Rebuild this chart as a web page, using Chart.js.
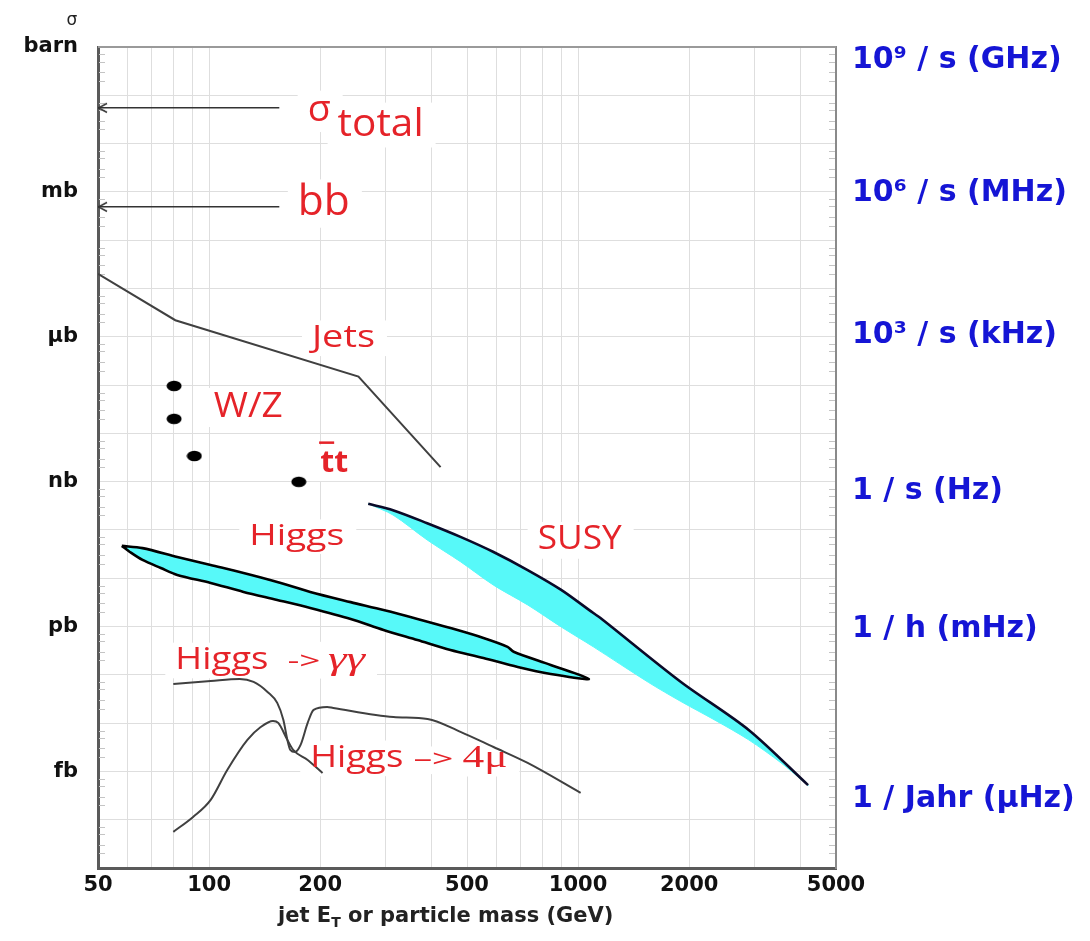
<!DOCTYPE html>
<html>
<head>
<meta charset="utf-8">
<script src="https://cdn.jsdelivr.net/npm/chart.js"></script>
<style>
  html, body { margin: 0; padding: 0; background: #fff; }
  #wrap { width: 1090px; height: 941px; position: relative; }
</style>
</head>
<body>
<div id="wrap"><canvas id="xsecChart"></canvas></div>
<script>
// x: jet ET / particle mass in GeV, y: cross section in pb
const xTicks = [50, 60, 70, 80, 90, 100, 200, 300, 400, 500, 600, 700, 800, 900, 1000, 2000, 3000, 4000, 5000];
const xTickLabels = [50, 100, 200, 500, 1000, 2000, 5000];
const yTicks = [1e-5, 1e-4, 1e-3, 1e-2, 1e-1, 1, 1e1, 1e2, 1e3, 1e4, 1e5, 1e6, 1e7, 1e8, 1e9, 1e10, 1e11, 1e12];
const yMinorSteps = [2, 3, 5, 7];
const yUnitValues = [1e12, 1e9, 1e6, 1e3, 1, 1e-3];
const yUnitLabels = ["barn", "mb", "μb", "nb", "pb", "fb"];
const rateValues = [5.4e11, 9.5e8, 1.1e6, 640, 0.89, 2.6e-4];
const rateLabels = ["10⁹ / s (GHz)", "10⁶ / s (MHz)", "10³ / s (kHz)", "1 / s (Hz)", "1 / h (mHz)", "1 / Jahr (μHz)"];

const sigmaTotal = [[155, 5.5e10], [50, 5.5e10]];
const sigmaBB = [[155, 4.9e8], [50, 4.9e8]];
const jets = [[50, 2.0e7], [81, 2.2e6], [254, 1.5e5], [424, 2.0e3]];
const wzTop = [[80.4, 9.6e4], [80.4, 2.0e4], [91.2, 3.4e3], [175, 990]];

const higgsUpper = [[58, 46.7], [66, 42], [82, 27.6], [101, 18.8], [124, 12.9], [153, 8.4], [188, 5.2],
  [242, 3.2], [297, 2.2], [367, 1.44], [451, 0.93], [554, 0.58], [644, 0.38], [669, 0.30], [843, 0.16], [1070, 0.082]];
const higgsLower = [[58, 46.7], [61, 35], [66, 23.9], [74, 16.3], [82, 11.7], [101, 8.0], [124, 5.2], [153, 3.56],
  [188, 2.43], [242, 1.44], [297, 0.85], [367, 0.525], [451, 0.326], [554, 0.223], [686, 0.145], [843, 0.104], [1070, 0.082]];

const susyUpper = [[270, 347], [315, 257], [390, 138], [480, 72], [590, 35], [730, 14.8], [900, 5.75],
  [1100, 1.9], [1150, 1.5], [1900, 0.071], [2900, 0.0072], [4200, 0.00052]];
const susyLower = [[270, 347], [315, 204], [390, 62], [480, 22], [590, 7.2], [730, 2.8], [900, 0.98],
  [1100, 0.38], [1550, 0.07], [1900, 0.028], [2350, 0.0115], [2900, 0.0045], [3550, 0.0015], [4200, 0.00052]];

const higgsGG = [[80, 0.0648], [101, 0.0748], [121, 0.0822], [132, 0.0713], [144, 0.0443], [153, 0.0262],
  [159, 0.0116], [163, 0.0045], [166, 0.0028], [171, 0.00253], [177, 0.00354], [185, 0.0101], [192, 0.0188],
  [209, 0.0216], [217, 0.0206], [316, 0.0134], [391, 0.0122], [480, 0.0066], [590, 0.0032], [730, 0.0015], [1016, 0.00036]];
const higgs4mu = [[80, 5.6e-5], [90.5, 1.14e-4], [101, 2.57e-4], [112, 1.07e-3], [127, 4.5e-3], [138, 8.3e-3],
  [149, 0.0111], [154, 0.0101], [163, 0.0045], [169, 0.0028], [185, 0.00173], [203, 0.00093]];

const red = "#e52329";
const cyan = "#57f9f9";
const textLabels = [
  { text: "σ", x: 185, y: 2.9e10, size: 36, w: 23 },
  { text: "total", x: 223, y: 1.45e10, size: 39, w: 86 },
  { text: "bb", x: 174, y: 3.3e8, size: 42, w: 52 },
  { text: "Jets", x: 190, y: 6.2e5, size: 31, w: 63 },
  { text: "W/Z", x: 103, y: 2.2e4, size: 34, w: 69 },
  { text: "tt", x: 200, y: 1.6e3, size: 31, w: 28, bold: true, bar: true },
  { text: "Higgs", x: 128.5, y: 49, size: 30, w: 95 },
  { text: "SUSY", x: 777, y: 40, size: 32, w: 84 },
  { text: "Higgs", x: 81, y: 0.132, size: 31, w: 93 },
  { text: "->", x: 163, y: 0.132, size: 24, w: 33 },
  { text: "γγ", x: 210, y: 0.132, size: 32, w: 37, family: "'Liberation Serif'", italic: true },
  { text: "Higgs", x: 188, y: 1.24e-3, size: 31, w: 93 },
  { text: "–>", x: 358, y: 1.24e-3, size: 24, w: 40 },
  { text: "4μ", x: 486, y: 1.24e-3, size: 32, w: 45, family: "'Liberation Serif'" },
];

const pts = (arr) => arr.map(([x, y]) => ({ x, y }));

function makeArrowHead() {
  const c = document.createElement("canvas");
  c.width = 22; c.height = 12;
  const g = c.getContext("2d");
  g.strokeStyle = "#333"; g.lineWidth = 1.5;
  g.beginPath(); g.moveTo(20, 1.5); g.lineTo(11.5, 6); g.lineTo(20, 10.5); g.stroke();
  return c;
}
function makeDot() {
  const c = document.createElement("canvas");
  c.width = 16; c.height = 12;
  const g = c.getContext("2d");
  g.fillStyle = "#000";
  g.beginPath(); g.ellipse(8, 6, 7.5, 5.2, 0, 0, Math.PI * 2); g.fill();
  return c;
}
const arrowHead = makeArrowHead();
const dot = makeDot();

const lineDefaults = { showLine: true, pointRadius: 0, pointHoverRadius: 0, fill: false };

function labelFont(l) {
  const weight = l.bold ? "bold " : l.family ? "" : "500 ";
  return `${l.italic ? "italic " : ""}${weight}${l.size}px ${l.family || "'Open Sans'"}`;
}

// text labels drawn in data coordinates, with white patches behind them
const labelPlugin = {
  id: "labelPlugin",
  beforeDatasetsDraw(chart) {
    const { ctx, scales, chartArea } = chart;
    ctx.save();
    ctx.fillStyle = "#fff";
    for (const l of textLabels) {
      const px = scales.x.getPixelForValue(l.x);
      const py = scales.y.getPixelForValue(l.y);
      ctx.fillRect(px - 10, py - l.size * 0.85, l.w + 22, l.size * 1.15);
    }
    // minor tick comb inside left and right frame
    ctx.strokeStyle = "#c4c4c4";
    ctx.lineWidth = 1;
    ctx.beginPath();
    for (const d of yTicks.slice(0, -1)) {
      for (const m of yMinorSteps) {
        const py = Math.round(scales.y.getPixelForValue(d * m)) + 0.5;
        ctx.moveTo(chartArea.left + 1, py); ctx.lineTo(chartArea.left + 7, py);
        ctx.moveTo(chartArea.right - 1, py); ctx.lineTo(chartArea.right - 7, py);
      }
    }
    ctx.stroke();
    ctx.restore();
  },
  afterDatasetsDraw(chart) {
    const { ctx, scales } = chart;
    ctx.save();
    ctx.fillStyle = red;
    ctx.textAlign = "left";
    ctx.textBaseline = "alphabetic";
    for (const l of textLabels) {
      const px = scales.x.getPixelForValue(l.x);
      const py = scales.y.getPixelForValue(l.y);
      ctx.font = labelFont(l);
      const m = ctx.measureText(l.text).width;
      const sx = l.w ? l.w / m : 1;
      ctx.save();
      ctx.translate(px, py);
      ctx.scale(sx, 1);
      ctx.fillText(l.text, 0, 0);
      if (l.bar) {
        const tw = ctx.measureText("t").width;
        ctx.fillRect(-1, -l.size * 0.98, tw + 1, 2.5);
      }
      ctx.restore();
    }
    ctx.restore();
  },
  afterDraw(chart) {
    const { ctx, chartArea } = chart;
    ctx.save();
    // top frame line
    ctx.strokeStyle = "#9a9a9a";
    ctx.lineWidth = 2;
    ctx.beginPath();
    ctx.moveTo(chartArea.left, chartArea.top);
    ctx.lineTo(chartArea.right, chartArea.top);
    ctx.stroke();
    // sigma above unit labels
    ctx.fillStyle = "#222";
    ctx.font = "17px 'DejaVu Sans'";
    ctx.textAlign = "center";
    ctx.fillText("σ", 72, 25);
    // x axis title with subscript
    ctx.textAlign = "left";
    ctx.font = "bold 21px 'DejaVu Sans'";
    let tx = 278;
    const by = 922;
    ctx.fillText("jet E", tx, by);
    tx += ctx.measureText("jet E").width;
    ctx.font = "bold 14px 'DejaVu Sans'";
    ctx.fillText("T", tx, by + 5);
    tx += ctx.measureText("T").width;
    ctx.font = "bold 21px 'DejaVu Sans'";
    ctx.fillText(" or particle mass (GeV)", tx, by);
    ctx.restore();
  },
};

new Chart(document.getElementById("xsecChart"), {
  type: "scatter",
  data: {
    datasets: [
      { ...lineDefaults, data: pts(sigmaTotal), borderColor: "#333", borderWidth: 1.5,
        pointStyle: arrowHead, pointRadius: [0, 6] },
      { ...lineDefaults, data: pts(sigmaBB), borderColor: "#333", borderWidth: 1.5,
        pointStyle: arrowHead, pointRadius: [0, 6] },
      { ...lineDefaults, data: pts(jets), borderColor: "#404040", borderWidth: 2 },
      { data: pts(wzTop), showLine: false, pointStyle: dot, pointRadius: 5, pointHoverRadius: 5 },
      { ...lineDefaults, data: pts(higgsGG), borderColor: "#404040", borderWidth: 2, cubicInterpolationMode: "monotone" },
      { ...lineDefaults, data: pts(higgs4mu), borderColor: "#404040", borderWidth: 2, cubicInterpolationMode: "monotone" },
      { ...lineDefaults, data: pts(higgsUpper.concat(higgsLower.slice().reverse().slice(1))),
        borderColor: "#000", borderWidth: 2.6, backgroundColor: cyan, fill: "shape", tension: 0.3, order: 1 },
      { ...lineDefaults, data: pts(susyUpper), borderColor: "#0a0a28", borderWidth: 2.6, tension: 0.3, order: 1 },
      { ...lineDefaults, data: pts(susyUpper.concat(susyLower.slice().reverse().slice(1))),
        borderColor: cyan, borderWidth: 1, backgroundColor: cyan, fill: "shape", tension: 0.3, order: 2 },
    ],
  },
  options: {
    responsive: true,
    maintainAspectRatio: false,
    animation: false,
    events: [],
    layout: { padding: { top: 47, left: 0, right: 0, bottom: 0 } },
    plugins: { legend: { display: false }, tooltip: { enabled: false } },
    scales: {
      x: {
        type: "logarithmic",
        min: 50,
        max: 5000,
        afterBuildTicks: (s) => { s.ticks = xTicks.map((v) => ({ value: v })); },
        afterFit: (s) => { s.height = 73; },
        border: { color: "#5a5a5a", width: 3 },
        grid: { color: "#dedede", lineWidth: 1, drawTicks: false },
        ticks: {
          autoSkip: false,
          maxRotation: 0,
          padding: 5,
          color: "#111",
          font: { family: "'DejaVu Sans'", weight: "bold", size: 21 },
          callback: (v) => (xTickLabels.includes(v) ? String(v) : ""),
        },
      },
      y: {
        type: "logarithmic",
        position: "left",
        min: 1e-5,
        max: 1e12,
        afterBuildTicks: (s) => { s.ticks = yTicks.map((v) => ({ value: v })); },
        afterFit: (s) => { s.width = 98; },
        border: { color: "#5a5a5a", width: 3 },
        grid: { color: "#dedede", lineWidth: 1, drawTicks: false },
        ticks: {
          autoSkip: false,
          padding: 20,
          color: "#111",
          font: { family: "'DejaVu Sans'", weight: "bold", size: 21 },
          callback: (v) => {
            const i = yUnitValues.indexOf(v);
            return i >= 0 ? yUnitLabels[i] : "";
          },
        },
      },
      y2: {
        type: "logarithmic",
        position: "right",
        min: 1e-5,
        max: 1e12,
        afterBuildTicks: (s) => { s.ticks = rateValues.map((v) => ({ value: v })); },
        afterFit: (s) => { s.width = 254; },
        border: { color: "#8a8a8a", width: 2 },
        grid: { drawOnChartArea: false, drawTicks: false },
        ticks: {
          autoSkip: false,
          padding: 16,
          color: "#1515d5",
          font: { family: "'DejaVu Sans'", weight: "bold", size: 30 },
          callback: (v, i) => rateLabels[i],
        },
      },
    },
  },
  plugins: [labelPlugin],
});
</script>
</body>
</html>
